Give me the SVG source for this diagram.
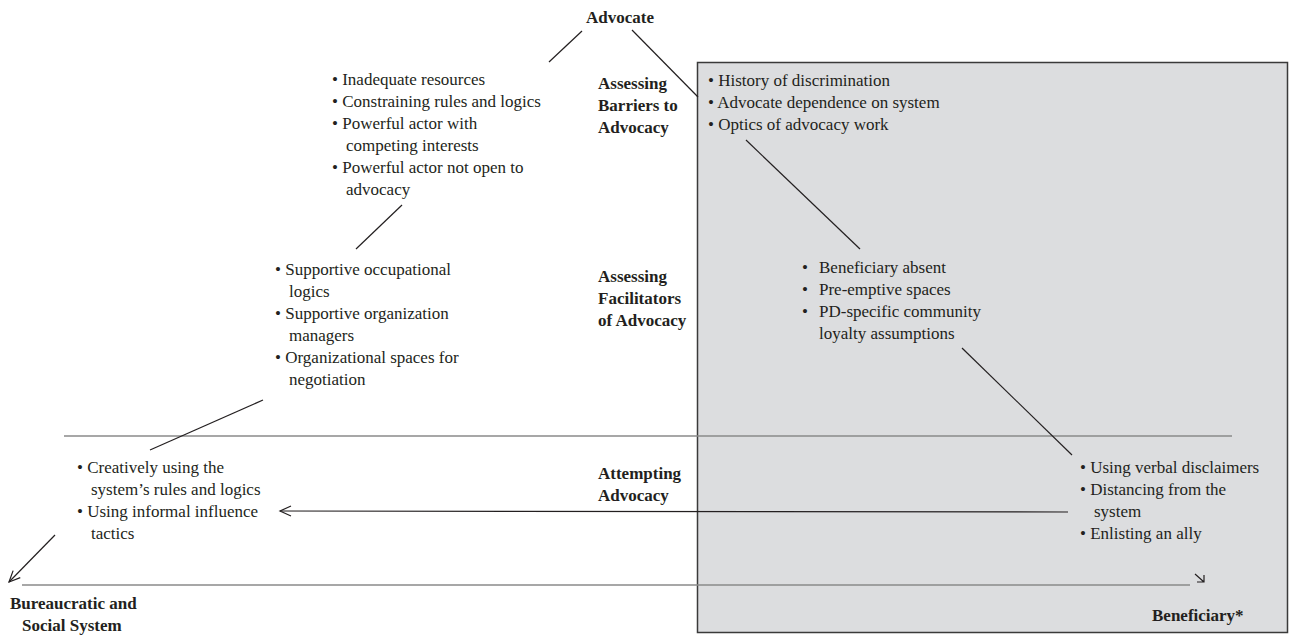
<svg xmlns="http://www.w3.org/2000/svg" width="1294" height="635" viewBox="0 0 1294 635">
<defs>
<style>
text{font-family:"Times New Roman",Times,"Liberation Serif","DejaVu Serif","Noto Serif",serif;font-size:17px;fill:#231f20}
.b{font-weight:bold}
.ln{stroke:#231f20;stroke-width:1.2;fill:none}
.gl{stroke:#8a8a8a;stroke-width:1.3;fill:none}
</style>
<marker id="ah" markerWidth="14" markerHeight="12" refX="12" refY="6" orient="auto" markerUnits="userSpaceOnUse">
<path d="M1,1 L12,6 L1,11" fill="none" stroke="#231f20" stroke-width="1.2"/>
</marker>
</defs>
<rect width="1294" height="635" fill="#fff"/>
<g id="beneficiary-panel">
<rect x="697.5" y="62.5" width="590" height="570" fill="#dcdddf" stroke="#3a3a3a" stroke-width="1.5"/>
</g>
<g id="connectors">
<line class="gl" x1="64" y1="436" x2="1232" y2="436"/>
<line class="gl" x1="22" y1="585" x2="1190" y2="585"/>
<line class="ln" x1="582" y1="31" x2="549" y2="62"/>
<line class="ln" x1="632" y1="30" x2="698" y2="97"/>
<line class="ln" x1="402" y1="205" x2="356" y2="249"/>
<line class="ln" x1="263" y1="400" x2="150" y2="450"/>
<line class="ln" x1="55" y1="535" x2="9" y2="582" marker-end="url(#ah)"/>
<line class="ln" x1="1068" y1="512" x2="280" y2="511" marker-end="url(#ah)"/>
<line class="ln" x1="746" y1="140" x2="860" y2="249"/>
<line class="ln" x1="962" y1="348" x2="1072" y2="455"/>
<path class="ln" d="M1195,574 L1204,582 M1197,582 L1204,582 L1204,575"/>
</g>
<g id="advocate"><text class="b" x="620" y="23" text-anchor="middle">Advocate</text></g>
<g id="system"><text class="b" x="10" y="609">Bureaucratic and</text><text class="b" x="22" y="631">Social System</text></g>
<g id="beneficiary"><text class="b" x="1152" y="621">Beneficiary*</text></g>
<g id="stage-barriers"><text class="b" x="598" y="89">Assessing</text><text class="b" x="598" y="111">Barriers to</text><text class="b" x="598" y="133">Advocacy</text></g>
<g id="stage-facilitators"><text class="b" x="598" y="282">Assessing</text><text class="b" x="598" y="304">Facilitators</text><text class="b" x="598" y="326">of Advocacy</text></g>
<g id="stage-attempting"><text class="b" x="598" y="479">Attempting</text><text class="b" x="598" y="501">Advocacy</text></g>
<g id="barriers-left">
<text x="332" y="85">• Inadequate resources</text>
<text x="332" y="107">• Constraining rules and logics</text>
<text x="332" y="129">• Powerful actor with</text>
<text x="346" y="151">competing interests</text>
<text x="332" y="173">• Powerful actor not open to</text>
<text x="346" y="195">advocacy</text>
</g>
<g id="facilitators">
<text x="275" y="275">• Supportive occupational</text>
<text x="289" y="297">logics</text>
<text x="275" y="319">• Supportive organization</text>
<text x="289" y="341">managers</text>
<text x="275" y="363">• Organizational spaces for</text>
<text x="289" y="385">negotiation</text>
</g>
<g id="attempting-left">
<text x="77" y="473">• Creatively using the</text>
<text x="91" y="495">system’s rules and logics</text>
<text x="77" y="517">• Using informal influence</text>
<text x="91" y="539">tactics</text>
</g>
<g id="barriers-right">
<text x="708" y="86">• History of discrimination</text>
<text x="708" y="108">• Advocate dependence on system</text>
<text x="708" y="130">• Optics of advocacy work</text>
</g>
<g id="facilitators-right">
<text x="802" y="273">•</text><text x="819" y="273">Beneficiary absent</text>
<text x="802" y="295">•</text><text x="819" y="295">Pre-emptive spaces</text>
<text x="802" y="317">•</text><text x="819" y="317">PD-specific community</text>
<text x="819" y="339">loyalty assumptions</text>
</g>
<g id="attempting-right">
<text x="1080" y="473">• Using verbal disclaimers</text>
<text x="1080" y="495">• Distancing from the</text>
<text x="1094" y="517">system</text>
<text x="1080" y="539">• Enlisting an ally</text>
</g>
</svg>
